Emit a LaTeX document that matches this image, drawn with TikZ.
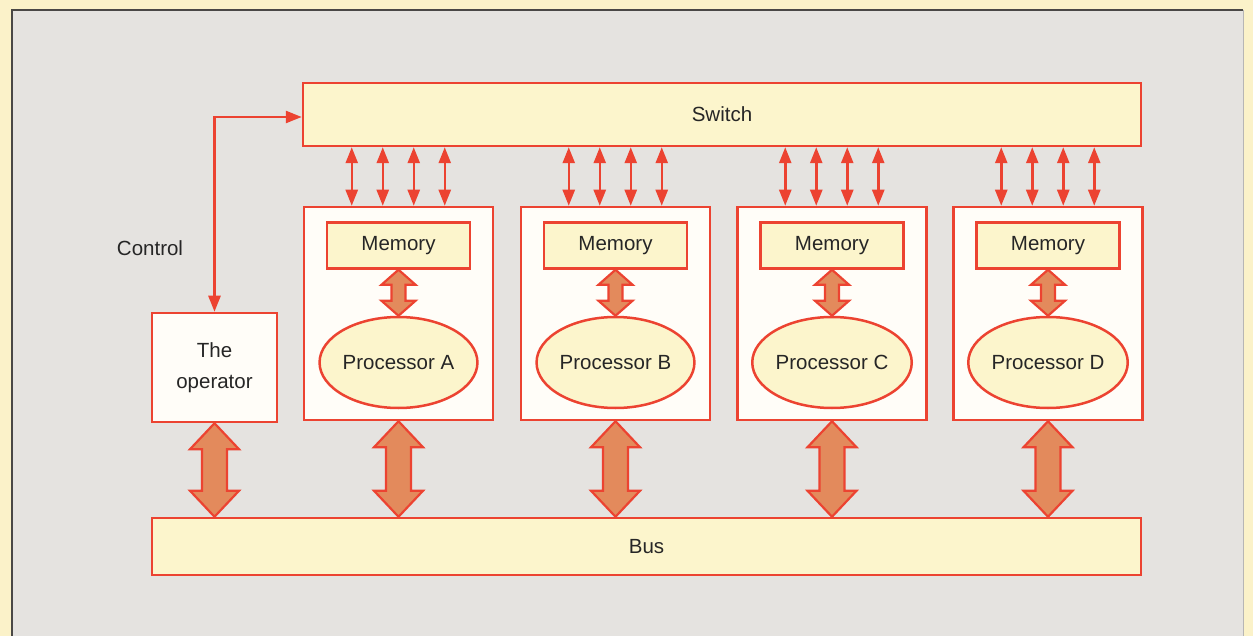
\documentclass[tikz,border=0pt]{standalone}
\usepackage{fontspec}
\setmainfont{Liberation Sans}
\usetikzlibrary{arrows.meta,calc,shapes.geometric}
\definecolor{outery}{HTML}{FBF2C9}
\definecolor{panel}{HTML}{E5E3E0}
\definecolor{boxy}{HTML}{FCF5CC}
\definecolor{boxw}{HTML}{FFFDF8}
\definecolor{redl}{HTML}{EC4331}
\definecolor{fatfill}{HTML}{E38A5C}
\definecolor{edge}{HTML}{4A4846}
\tikzset{
  lbl/.style={font=\fontsize{20.5}{31}\selectfont, text=black!85},
  ybox/.style={draw=redl, line width=2.5pt, fill=boxy, rectangle, inner sep=0pt},
  wbox/.style={draw=redl, line width=2.5pt, fill=boxw, rectangle, inner sep=0pt},
  proc/.style={draw=redl, line width=2.5pt, fill=boxy, ellipse, inner sep=0pt, minimum width=155pt, minimum height=91pt},
  thinarr/.style={draw=redl, line width=2.5pt, {Triangle[length=16pt,width=12pt]}-{Triangle[length=16pt,width=12pt]}},
  fat/.style={draw=redl, line width=2.2pt, fill=fatfill, line join=miter}
}
% #1 top point, #2 bottom point, #3 shaft half width, #4 head half width, #5 head length
\newcommand\fatarrow[5]{%
  \draw[fat] let \p1=(#1), \p2=(#2) in
    (\x1,\y1) -- (\x1+#4pt,\y1-#5pt) -- (\x1+#3pt,\y1-#5pt) -- (\x1+#3pt,\y2+#5pt)
    -- (\x1+#4pt,\y2+#5pt) -- (\x1,\y2) -- (\x1-#4pt,\y2+#5pt) -- (\x1-#3pt,\y2+#5pt)
    -- (\x1-#3pt,\y1-#5pt) -- (\x1-#4pt,\y1-#5pt) -- cycle;}
\begin{document}
\begin{tikzpicture}[x=1pt,y=-1pt]
\useasboundingbox (0,0) rectangle (1253,636);
\fill[outery] (0,0) rectangle (1253,636);
\fill[panel] (12,10) rectangle (1243,636);
\draw[edge, line width=1.6pt] (12,636) -- (12,10) -- (1243,10);
\draw[edge!40, line width=1pt] (1243,10) -- (1243,636);

% switch and bus
\node[ybox, minimum width=838pt, minimum height=63pt] (switch) at (722,114.5) {};
\node[lbl] at (switch.center) {Switch};
\node[ybox, minimum width=989pt, minimum height=57pt] (bus) at (646.5,546.5) {};
\node[lbl] at (bus.center) {Bus};

% operator
\node[wbox, minimum width=125pt, minimum height=109pt, lbl, align=center] (op) at (214.5,367.5) {The\\operator};
\node[lbl] (ctl) at (150,248) {Control};
\coordinate (bend) at (214.5,117);
\draw[thinarr] (op.north) -- (bend) -- (bend -| switch.west);

% processor units
\foreach \pn/\px in {A/398.5, B/615.5, C/832, D/1048}{
  \node[wbox, minimum width=189pt, minimum height=213pt] (P\pn) at (\px,313.5) {};
  \node[ybox, minimum width=143pt, minimum height=46pt, lbl] (M\pn) at (\px,245.5) {Memory};
  \node[proc, lbl] (E\pn) at (\px,362.5) {Processor \pn};
  \foreach \dd in {49,80,111,142}{
    \path (P\pn.north west) ++(\dd,0) coordinate (sw\pn\dd);
    \draw[thinarr] (sw\pn\dd) -- (sw\pn\dd |- switch.south);
  }
  \fatarrow{M\pn.south}{E\pn.north}{7}{17}{15}
  \path (P\pn.south |- bus.north) coordinate (bt\pn);
  \fatarrow{P\pn.south}{bt\pn}{12.5}{24.5}{26}
}
\path (op.south |- bus.north) coordinate (btop);
\fatarrow{op.south}{btop}{12.5}{24.5}{26}
\end{tikzpicture}
\end{document}
